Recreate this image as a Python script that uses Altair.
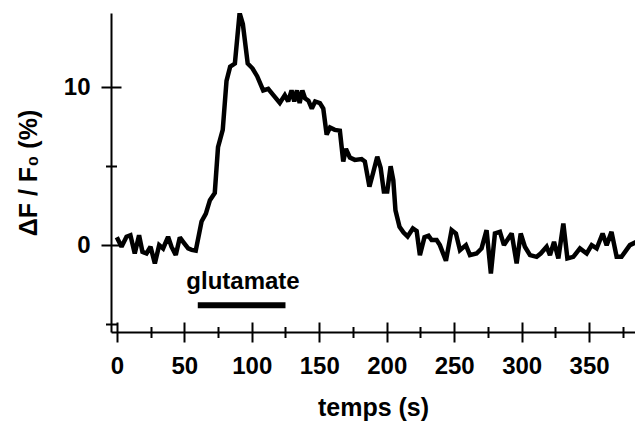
import altair as alt
import pandas as pd

# ---- data ----
time_s = [0, 3.5, 7.2, 10.1, 13.3, 16.5, 19, 22, 25, 28.2, 31.4, 34.3, 38, 40.5, 43.7, 46.7,
          49.7, 52.9, 55.5, 58.5, 62.8, 66, 69, 72.6, 75, 78.5, 81.3, 84, 87.5, 91, 93.4, 97,
          100.5, 104, 108.5, 112.2, 116, 120.8, 124.5, 127, 129.5, 131.5, 133.5, 135.5, 137.5,
          139.5, 142, 144.5, 147, 150.5, 153, 155.5, 158, 161.5, 165.3, 167.8, 169.8, 172.7,
          176.4, 181.4, 183.8, 187.2, 190, 193, 195.5, 197.9, 200.4, 202.9, 204.9, 206.5, 209.5,
          212.5, 215.5, 219.4, 222.2, 224.6, 228, 231, 233.3, 237, 239.4, 243.9, 248.1, 251.3,
          254.3, 258.7, 261.7, 266.6, 270.3, 274, 277.2, 280.2, 283.9, 286.9, 290.1, 292.6,
          296.3, 299.3, 302.4, 306.2, 311.1, 314.1, 318.5, 321, 324, 327.2, 330.9, 333.9,
          338.3, 343.2, 348.2, 351.9, 355.6, 360, 363, 366.6, 370.4, 374, 380.2, 385.2, 388.9]
dff_pct = [0.5, -0.1, 0.53, 0.63, -0.53, 0.63, -0.42, -0.53, -0.1, -1.16, 0.0, -0.21, 0.53, -0.1,
           -0.63, 0.49, 0.15, -0.21, -0.3, -0.35, 1.5, 2.0, 2.85, 3.3, 6.2, 7.3, 10.4, 11.3, 11.5,
           14.7, 14.0, 11.5, 11.2, 10.7, 9.8, 9.9, 9.5, 9.0, 9.5, 9.1, 9.8, 9.1, 9.8, 9.0, 9.8,
           9.3, 9.15, 8.65, 9.1, 9.0, 8.65, 7.0, 7.45, 7.3, 7.25, 5.3, 6.1, 5.55, 5.4, 5.45, 5.3,
           3.7, 4.6, 5.6, 4.9, 3.4, 3.4, 5.0, 4.1, 2.2, 1.16, 0.8, 0.55, 1.06, 0.9, -0.63, 0.5,
           0.6, 0.32, 0.32, 0.0, -0.99, 0.95, 0.74, -0.32, 0.0, -0.63, -0.53, -0.21, 0.95, -1.79,
           0.74, 0.84, 0.0, 0.42, 0.74, -1.16, 0.74, -0.1, -0.63, -0.74, -0.53, -0.1, -0.63, 0.21,
           -0.84, 1.37, -0.84, -0.74, -0.21, -0.53, 0.0, -0.21, 0.74, 0.0, 0.84, -0.74, -0.74,
           0.0, 0.21, -1.16]

x_major_ticks = [0, 50, 100, 150, 200, 250, 300, 350]
x_minor_ticks = [25, 75, 125, 175, 225, 275, 325, 375]
y_major_ticks = [0, 10]
y_minor_ticks = [-5, 5]

stim_start = [60]
stim_end = [125]
stim_level = [-3.8]
stim_label = ["glutamate"]
stim_label_x = [93.5]
stim_label_y = [-2.8]

x_title = "temps (s)"
y_title = "\u0394F / F\u2080 (%)"

X_DOMAIN = [-4.3, 384]
Y_DOMAIN = [-5.5, 14.7]

FONT = "Liberation Sans"

trace = pd.DataFrame({"t": time_s, "v": dff_pct})
stim = pd.DataFrame({"x": stim_start, "x2": stim_end, "y": stim_level})
lab = pd.DataFrame({"x": stim_label_x, "y": stim_label_y, "text": stim_label})

xs = alt.Scale(domain=X_DOMAIN, nice=False, zero=False)
ys = alt.Scale(domain=Y_DOMAIN, nice=False, zero=False)


def ax(orient, values, offset, size, main=False, title=None):
    kw = dict(orient=orient, values=values, offset=offset, tickSize=size, tickWidth=2,
              tickColor="black", grid=False)
    if main:
        kw.update(domain=True, domainWidth=2, domainColor="black", labels=True,
                  labelFont=FONT, labelFontSize=24, labelFontWeight="bold",
                  labelColor="black", title=title, titleFont=FONT, titleFontSize=25,
                  titleFontWeight="bold", titleColor="black")
        if orient == "bottom":
            kw.update(labelPadding=12, titlePadding=17)
        else:
            kw.update(labelPadding=11, titlePadding=22)
    else:
        kw.update(domain=False, labels=False, title=None)
    return alt.Axis(**kw)


def layer(xaxis, yaxis, visible=False):
    m = alt.Chart(trace).mark_line(
        color="black", strokeWidth=4.5, clip=True,
        strokeJoin="miter", strokeMiterLimit=2, opacity=1 if visible else 0)
    return m.encode(
        x=alt.X("t:Q", scale=xs, axis=xaxis),
        y=alt.Y("v:Q", scale=ys, axis=yaxis),
    )


main = layer(ax("bottom", x_major_ticks, 0, 10, True, x_title),
             ax("left", y_major_ticks, 0, 10, True, y_title), visible=True)
inner_major = layer(ax("bottom", x_major_ticks, -10, 10), ax("left", y_major_ticks, -10, 10))
outer_minor = layer(ax("bottom", x_minor_ticks, 0, 5.5), ax("left", y_minor_ticks, 0, 5.5))
inner_minor = layer(ax("bottom", x_minor_ticks, -5.5, 5.5), ax("left", y_minor_ticks, -5.5, 5.5))

bar = alt.Chart(stim).mark_rule(color="black", strokeWidth=6, strokeCap="butt").encode(
    x=alt.X("x:Q", scale=xs, axis=None),
    x2="x2:Q",
    y=alt.Y("y:Q", scale=ys, axis=None),
)

text = alt.Chart(lab).mark_text(
    font=FONT, fontSize=24, fontWeight="bold", color="black",
    align="center", baseline="alphabetic").encode(
    x=alt.X("x:Q", scale=xs, axis=None),
    y=alt.Y("y:Q", scale=ys, axis=None),
    text="text:N",
)

chart = alt.layer(main, inner_major, outer_minor, inner_minor, bar, text).resolve_scale(
    x="shared", y="shared"
).resolve_axis(
    x="independent", y="independent"
).properties(
    width=524, height=319,
    autosize=alt.AutoSizeParams(type="none"),
    padding={"left": 103, "top": 5, "right": 0, "bottom": 90},
).configure_view(stroke=None)

chart.save("out.html", embed_options={"renderer": "svg", "actions": False})
